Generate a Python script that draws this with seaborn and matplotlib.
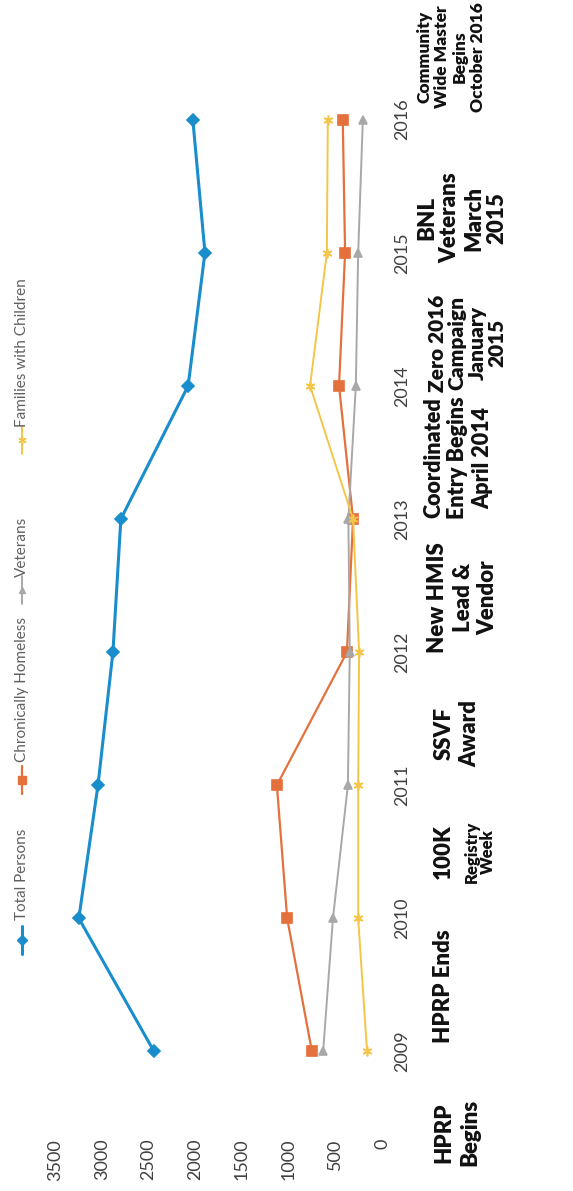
import matplotlib
matplotlib.use("Agg")
import matplotlib.pyplot as plt
from matplotlib.lines import Line2D
import seaborn as sns
import pandas as pd

# Point-in-time counts by year
years = [2009, 2010, 2011, 2012, 2013, 2014, 2015, 2016]
total_persons = [2440, 3245, 3040, 2880, 2795, 2075, 1895, 2025]
chronically_homeless = [750, 1015, 1125, 375, 310, 460, 395, 420]
veterans = [630, 525, 365, 345, 360, 280, 255, 205]
families_with_children = [160, 255, 255, 245, 310, 770, 590, 580]

series_names = ["Total Persons", "Chronically Homeless", "Veterans", "Families with Children"]
series_values = [total_persons, chronically_homeless, veterans, families_with_children]

value_ticks = [0, 500, 1000, 1500, 2000, 2500, 3000, 3500]

# Milestones shown beside the year axis
events = [
    ("HPRP\nBegins", 2008.39),
    ("HPRP Ends", 2009.49),
    ("SSVF\nAward", 2011.39),
    ("New HMIS\nLead &\nVendor", 2012.41),
    ("Coordinated\nEntry Begins\nApril 2014", 2013.46),
    ("Zero 2016\nCampaign\nJanuary\n2015", 2014.32),
    ("BNL\nVeterans\nMarch\n2015", 2015.26),
    ("Community\nWide Master\nBegins\nOctober 2016", 2016.47),
]

df = pd.DataFrame({
    "year": years * len(series_names),
    "count": [v for vals in series_values for v in vals],
    "series": [s for s in series_names for _ in years],
})

sns.set_theme(style="white")
plt.rcParams["font.family"] = ["Lato", "DejaVu Sans"]

colors = {"Total Persons": "#1a8dcc", "Chronically Homeless": "#e4703c",
          "Veterans": "#a8a8a8", "Families with Children": "#f3c64a"}
markers = {"Total Persons": "D", "Chronically Homeless": "s",
           "Veterans": "^", "Families with Children": (6, 2, 0)}
widths = {"Total Persons": 2.2, "Chronically Homeless": 1.6,
          "Veterans": 1.4, "Families with Children": 1.4}
msizes = {"Total Persons": 6, "Chronically Homeless": 7,
          "Veterans": 6, "Families with Children": 7}

W, H = 573, 1191
fig = plt.figure(figsize=(W / 100, H / 100), dpi=100)
fig.patch.set_facecolor("white")
ax = fig.add_axes([55 / W, 1 - 1118 / H, (382 - 55) / W, (1118 - 53) / H])
ax.set_facecolor("white")

for name in series_names:
    sub = df[df["series"] == name]
    sns.lineplot(data=sub, x="count", y="year", orient="y", sort=True, ax=ax,
                 color=colors[name], marker=markers[name], markersize=msizes[name],
                 markeredgecolor=colors[name], markeredgewidth=1.2,
                 linewidth=widths[name], legend=False)

ax.set_xlim(3500, 0)
ax.set_ylim(2008.5, 2016.5)
ax.set_xticks(value_ticks)
ax.set_xticklabels([str(v) for v in value_ticks])
ax.set_yticks(years)
ax.set_yticklabels([str(y) for y in years])
ax.yaxis.tick_right()
ax.set_xlabel("")
ax.set_ylabel("")
for s in ax.spines.values():
    s.set_visible(False)
ax.tick_params(axis="both", length=0)
ax.tick_params(axis="x", pad=15, labelsize=13, labelcolor="#404040")
ax.tick_params(axis="y", pad=9, labelsize=13, labelcolor="#404040")
for lbl in ax.get_xticklabels():
    lbl.set_rotation(90)
    lbl.set_ha("center")
    lbl.set_va("top")
for lbl in ax.get_yticklabels():
    lbl.set_rotation(90)
    lbl.set_ha("left")
    lbl.set_va("center")

# Milestone annotations, placed in axes-x / data-y coordinates
tr = ax.get_yaxis_transform()
x_axes = lambda px: (px - 55) / (382 - 55)
event_x = [457, 443, 457, 463, 458, 467, 462, 451]
event_size = [16, 16, 16, 16, 15.5, 15, 16, 12.5]
event_ls = [1.25, 1.0, 1.25, 1.25, 1.2, 1.05, 1.15, 1.15]
WEIGHT = "heavy"
for (label, yv), xp, fs, ls in zip(events, event_x, event_size, event_ls):
    ax.text(x_axes(xp), yv, label, transform=tr, rotation=90, ha="center", va="center",
            multialignment="center", fontsize=fs, fontweight=WEIGHT, color="#111111",
            linespacing=ls, clip_on=False)
ax.text(x_axes(443), 2010.5, "100K", transform=tr, rotation=90, ha="center", va="center",
        fontsize=16, fontweight=WEIGHT, color="#111111", clip_on=False)
ax.text(x_axes(480), 2010.5, "Registry\nWeek", transform=tr, rotation=90, ha="center",
        va="center", multialignment="center", fontsize=12, fontweight=WEIGHT,
        color="#111111", linespacing=1.05, clip_on=False)

# Legend drawn along the left edge, reading bottom to top
legend_items = [("Total Persons", 940, 920), ("Chronically Homeless", 780, 762),
                ("Veterans", 590, 577), ("Families with Children", 440, 427)]
for name, my, ty in legend_items:
    fx = 22 / W
    fig.add_artist(Line2D([fx, fx], [1 - (my + 14) / H, 1 - (my - 14) / H],
                          transform=fig.transFigure, color=colors[name],
                          linewidth=widths[name]))
    fig.add_artist(Line2D([fx], [1 - my / H], transform=fig.transFigure,
                          color=colors[name], marker=markers[name],
                          markersize=msizes[name] - 1, markeredgecolor=colors[name],
                          linestyle="none"))
    fig.text(fx, 1 - ty / H, name, rotation=90, ha="center", va="bottom",
             fontsize=11, color="#606060")

fig.savefig("out.png", dpi=100, facecolor="white")
